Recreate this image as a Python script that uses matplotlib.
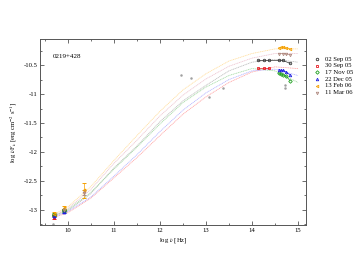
import matplotlib
matplotlib.use("Agg")
import matplotlib.pyplot as plt
from matplotlib.lines import Line2D

plt.rcParams["font.family"] = ["Liberation Serif", "DejaVu Serif"]
plt.rcParams["mathtext.fontset"] = "stix"

SOURCE = "0219+428"
DATES = ["02 Sep 05", "30 Sep 05", "17 Nov 05", "22 Dec 05", "13 Feb 06", "11 Mar 06"]
COLORS = ["#333333", "#e8141c", "#20a020", "#2020e0", "#f5a000", "#b08a80"]
CURVE_COLORS = ["#b8b8b8", "#ffa0a0", "#a0d8a0", "#b0b0ff", "#ffdc98", "#ecc0cc"]
MARKERS = ["o", "s", "D", "^", "<", "v"]

# model curves
curve_x = [9.7, 10.0, 10.5, 11.0, 11.5, 12.0, 12.5, 13.0, 13.5, 14.0, 14.5, 15.0]
curve_y = [
    [-13.10, -13.02, -12.72, -12.28, -11.90, -11.48, -11.12, -10.85, -10.60, -10.45, -10.40, -10.45],
    [-13.13, -13.05, -12.80, -12.45, -12.10, -11.72, -11.35, -11.05, -10.80, -10.62, -10.53, -10.56],
    [-13.10, -13.00, -12.70, -12.30, -11.92, -11.52, -11.15, -10.88, -10.68, -10.56, -10.60, -10.80],
    [-13.12, -13.03, -12.78, -12.42, -12.05, -11.65, -11.28, -10.98, -10.75, -10.60, -10.57, -10.68],
    [-13.08, -12.95, -12.60, -12.15, -11.72, -11.30, -10.93, -10.65, -10.43, -10.30, -10.22, -10.22],
    [-13.10, -12.98, -12.65, -12.20, -11.80, -11.38, -11.02, -10.74, -10.52, -10.38, -10.30, -10.30],
]

# near-IR / optical photometry per epoch
opt_x = [
    [14.13, 14.26, 14.38, 14.58, 14.67, 14.83],
    [14.13, 14.26, 14.38],
    [14.58, 14.63, 14.67, 14.74, 14.83],
    [14.58, 14.63, 14.67, 14.74, 14.83],
    [14.58, 14.63, 14.67, 14.74, 14.83],
    [14.58, 14.67, 14.74, 14.83],
]
opt_y = [
    [-10.42, -10.42, -10.42, -10.42, -10.42, -10.47],
    [-10.55, -10.55, -10.55],
    [-10.64, -10.66, -10.67, -10.69, -10.77],
    [-10.58, -10.59, -10.59, -10.62, -10.67],
    [-10.20, -10.19, -10.19, -10.20, -10.22],
    [-10.30, -10.30, -10.31, -10.32],
]

# radio points per epoch
radio_x = [[9.70, 9.92], [9.70], [9.70, 9.92], [9.70, 9.92], [9.70, 9.92, 10.35], [9.92, 10.35]]
radio_y = [[-13.09, -13.00], [-13.13], [-13.08, -13.01], [-13.10, -13.04], [-13.07, -12.97, -12.66], [-13.00, -12.70]]
radio_err = [[0.02, 0.02], [0.02], [0.02, 0.02], [0.02, 0.02], [0.03, 0.04, 0.13], [0.02, 0.05]]

# archival points
arch_x = [9.68, 12.46, 12.67, 13.07, 13.37, 14.72, 14.72]
arch_y = [-13.25, -10.67, -10.72, -11.05, -10.90, -10.85, -10.89]

fig = plt.figure(figsize=(3.54, 2.73), dpi=100)
ax = fig.add_axes([0.113, 0.176, 0.751, 0.681])

for cy, cc in zip(curve_y, CURVE_COLORS):
    ax.plot(curve_x, cy, color=cc, lw=0.55, ls=(0, (1.5, 0.8)), zorder=1)

ax.plot(arch_x, arch_y, "o", color="#a0a0a0", ms=1.8, mew=0, zorder=2)

for i in range(len(DATES)):
    ax.errorbar(radio_x[i], radio_y[i], yerr=radio_err[i], fmt=MARKERS[i], color=COLORS[i],
                ms=2.0, mew=0.7, mfc="none", elinewidth=0.5, capsize=1.5, zorder=3)
    ax.plot(opt_x[i], opt_y[i], marker=MARKERS[i], color=COLORS[i], ms=1.8, mew=0.6,
            mfc="none", lw=0.5, zorder=4)

ax.set_xlim(9.4, 15.17)
ax.set_ylim(-13.26, -10.05)
ax.set_xticks([10, 11, 12, 13, 14, 15])
ax.set_xticks([9.5, 10.5, 11.5, 12.5, 13.5, 14.5], minor=True)
ax.set_yticks([-13, -12.5, -12, -11.5, -11, -10.5])
ax.set_yticks([-13.25, -12.75, -12.25, -11.75, -11.25, -10.75, -10.25], minor=True)
ax.set_xticklabels(["10", "11", "12", "13", "14", "15"])
ax.set_yticklabels(["-13", "-12.5", "-12", "-11.5", "-11", "-10.5"])
ax.tick_params(which="both", direction="in", top=True, right=True, labelsize=4.8,
               color="#555555", width=0.6, pad=2)
ax.tick_params(which="major", length=3)
ax.tick_params(which="minor", length=1.5)
for sp in ax.spines.values():
    sp.set_color("#555555")
    sp.set_linewidth(0.7)

ax.set_xlabel(r"log $\nu$ [Hz]", fontsize=4.8, labelpad=2)
ax.set_ylabel(r"log $\nu$F$_\nu$ [erg cm$^{-2}$ s$^{-1}$]", fontsize=4.8, labelpad=3)
fig.text(53 / 354, 1 - 57 / 273, SOURCE, fontsize=5, va="center")

# legend outside the frame
for i, lab in enumerate(DATES):
    yy = 1 - (59 + 6.7 * i) / 273
    fig.add_artist(Line2D([317 / 354], [yy], marker=MARKERS[i], color=COLORS[i], ms=1.8,
                          mew=0.6, mfc="none", ls="none", transform=fig.transFigure))
    fig.text(325 / 354, yy, lab, fontsize=4.8, va="center", ha="left")

fig.savefig("out.png", dpi=100)
